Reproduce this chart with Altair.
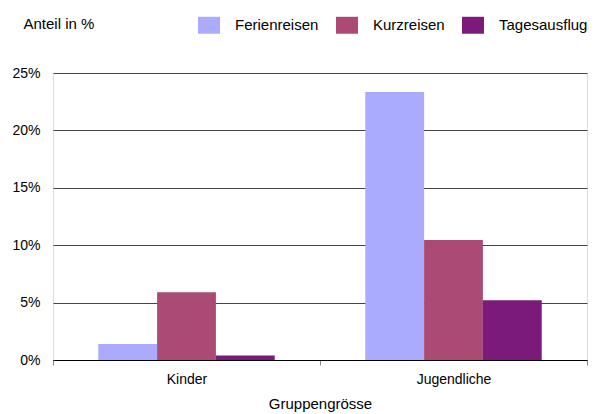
import altair as alt
import pandas as pd

groups = ["Kinder", "Jugendliche"]
series = ["Ferienreisen", "Kurzreisen", "Tagesausflug"]
colors = ["#AAAAFF", "#AA4A75", "#7B1A7A"]
values = {
    "Ferienreisen": [1.4, 23.35],
    "Kurzreisen": [5.9, 10.45],
    "Tagesausflug": [0.4, 5.2],
}
y_ticks = [0, 5, 10, 15, 20, 25]

rows = []
for s in series:
    for g, v in zip(groups, values[s]):
        rows.append({"Gruppe": g, "Reiseart": s, "Anteil": v})
df = pd.DataFrame(rows)

FONT = "Liberation Sans"
RECT = "M-1,-0.77L1,-0.77L1,0.77L-1,0.77Z"

chart = alt.Chart(df).mark_bar().encode(
    x=alt.X("Gruppe:N", sort=groups,
            scale=alt.Scale(paddingInner=0, paddingOuter=0),
            axis=alt.Axis(title="Gruppengrösse", labelAngle=0, labelPadding=7,
                          grid=False,
                          tickBand="extent", tickSize=5, tickColor="#888888",
                          domainColor="#000000", domainWidth=1,
                          labelFontSize=14, titleFontSize=15, titleFontWeight="normal",
                          titlePadding=10, labelColor="#000000", titleColor="#000000")),
    xOffset=alt.XOffset("Reiseart:N", sort=series,
                        scale=alt.Scale(paddingOuter=0.77, paddingInner=0)),
    y=alt.Y("Anteil:Q", scale=alt.Scale(domain=[0, 25]),
            axis=alt.Axis(values=y_ticks, labelExpr="datum.value + '%'",
                          grid=True, gridColor="#444444", gridWidth=1,
                          ticks=False, domain=False, labelPadding=13,
                          labelFontSize=14, labelColor="#000000",
                          title="Anteil in %", titleAngle=0, titleAlign="left",
                          titleBaseline="middle", titleX=-30, titleY=-50,
                          titleFontSize=15, titleFontWeight="normal", titleColor="#000000")),
    color=alt.Color("Reiseart:N", sort=series,
                    scale=alt.Scale(domain=series, range=colors),
                    legend=alt.Legend(title=None, orient="none", direction="horizontal",
                                      legendX=145, legendY=-59,
                                      symbolType=RECT, symbolSize=484,
                                      symbolStrokeWidth=0, labelFontSize=15,
                                      labelColor="#000000", labelOffset=15,
                                      columnPadding=17)),
).properties(
    width=534, height=287,
    autosize=alt.AutoSizeParams(type="none"),
    padding={"left": 45, "top": 65, "right": 4, "bottom": 56},
).configure_view(strokeWidth=0, stroke="transparent").configure(font=FONT)

chart.save("out.html", embed_options={"renderer": "svg", "actions": False})
